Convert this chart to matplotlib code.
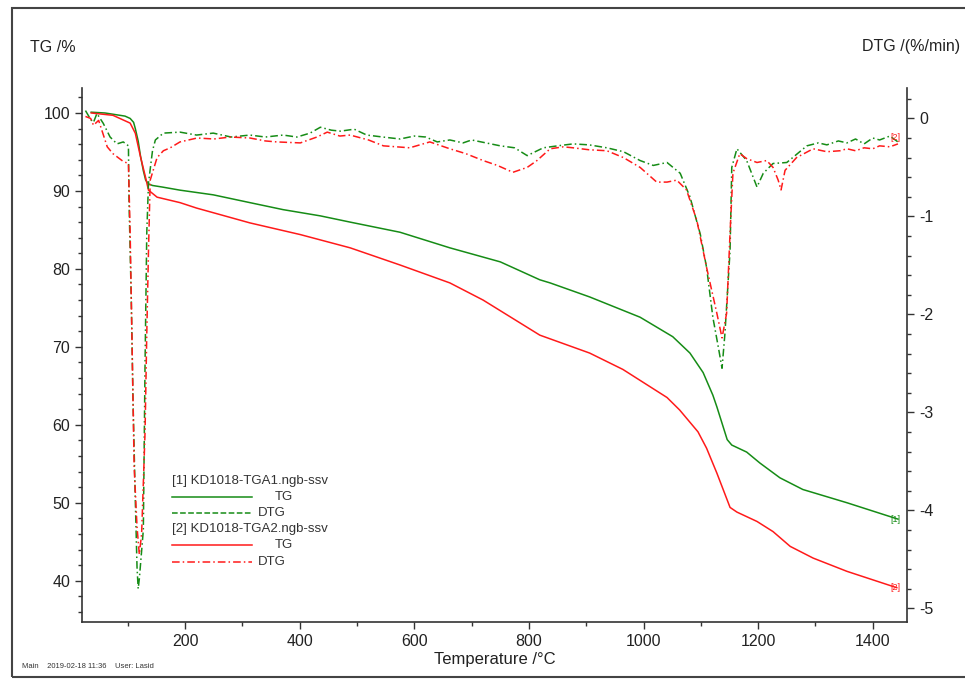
import matplotlib
matplotlib.use('Agg')
import matplotlib.pyplot as plt
from matplotlib.lines import Line2D
from matplotlib.patches import Rectangle
from matplotlib.ticker import MultipleLocator

plt.rcParams['font.family'] = ['Liberation Sans', 'DejaVu Sans']
plt.rcParams['axes.unicode_minus'] = False

# TG curves (temperature in degC, mass in %)
tg1_t = [36, 60, 95, 104, 110, 113, 118, 122, 127, 131, 136, 143, 160, 191, 249, 313, 371,
         436, 488, 575, 662, 750, 819, 837, 906, 994, 1051, 1081, 1104, 1121, 1128, 1146,
         1154, 1180, 1203, 1238, 1278, 1355, 1444]
tg1_v = [100.1, 100.0, 99.6, 99.3, 98.8, 98.0, 96.4, 94.5, 92.6, 91.4, 90.9, 90.7, 90.5, 90.1,
         89.5, 88.5, 87.6, 86.8, 86.0, 84.7, 82.7, 80.9, 78.6, 78.2, 76.4, 73.8, 71.3, 69.2,
         66.7, 63.8, 62.3, 58.1, 57.4, 56.5, 55.1, 53.2, 51.7, 50.0, 47.9]
tg2_t = [36, 74, 104, 113, 122, 131, 136, 151, 191, 220, 313, 401, 488, 575, 662, 720, 819,
         906, 964, 1041, 1063, 1095, 1110, 1128, 1151, 1163, 1198, 1226, 1256, 1296, 1355, 1442]
tg2_v = [100.0, 99.7, 98.7, 97.4, 94.4, 91.7, 90.1, 89.2, 88.5, 87.8, 85.9, 84.4, 82.7, 80.5,
         78.2, 76.0, 71.5, 69.2, 67.1, 63.5, 61.9, 59.1, 57.0, 53.8, 49.4, 48.8, 47.6, 46.3,
         44.4, 42.9, 41.2, 39.1]

# DTG curves (%/min)
dtg1_t = [26, 35, 40, 46, 57, 69, 81, 92, 101, 102, 106, 109, 113, 116, 118, 120, 127, 130,
          133, 136, 143, 148, 162, 191, 220, 249, 280, 313, 340, 371, 395, 418, 436, 455, 471,
          495, 517, 545, 575, 600, 620, 640, 662, 685, 700, 725, 750, 775, 797, 825, 850, 877,
          905, 936, 965, 994, 1017, 1041, 1064, 1081, 1099, 1110, 1121, 1131, 1137, 1142, 1151,
          1154, 1163, 1180, 1198, 1209, 1226, 1250, 1285, 1305, 1320, 1340, 1355, 1370, 1385,
          1400, 1412, 1430, 1444]
dtg1_v = [0.08, -0.01, -0.04, 0.05, -0.05, -0.19, -0.26, -0.24, -0.28, -0.84, -1.86, -2.88,
          -3.9, -4.58, -4.80, -4.70, -4.2, -2.5, -1.17, -0.66, -0.33, -0.22, -0.15, -0.14,
          -0.17, -0.15, -0.19, -0.17, -0.19, -0.17, -0.19, -0.15, -0.09, -0.12, -0.13, -0.11,
          -0.17, -0.19, -0.21, -0.18, -0.19, -0.24, -0.22, -0.25, -0.22, -0.25, -0.28, -0.30,
          -0.38, -0.30, -0.28, -0.26, -0.27, -0.30, -0.34, -0.43, -0.48, -0.45, -0.56, -0.80,
          -1.18, -1.52, -2.03, -2.35, -2.55, -2.2, -1.35, -0.5, -0.31, -0.43, -0.70, -0.56,
          -0.46, -0.45, -0.28, -0.25, -0.27, -0.23, -0.25, -0.21, -0.26, -0.20, -0.22, -0.18,
          -0.24]
dtg2_t = [26, 35, 40, 49, 64, 74, 92, 101, 104, 108, 111, 116, 120, 124, 130, 133, 136, 139,
          151, 162, 174, 191, 221, 250, 279, 313, 340, 360, 401, 430, 448, 470, 488, 520, 546,
          592, 627, 662, 690, 720, 745, 772, 797, 814, 837, 860, 877, 905, 936, 965, 994, 1023,
          1041, 1058, 1075, 1093, 1110, 1128, 1137, 1145, 1151, 1156, 1168, 1180, 1198, 1215,
          1226, 1235, 1240, 1247, 1267, 1296, 1320, 1343, 1355, 1370, 1385, 1400, 1412, 1430,
          1444]
dtg2_v = [0.02, 0.0, -0.07, -0.02, -0.29, -0.36, -0.44, -0.46, -1.17, -2.54, -3.56, -4.17,
          -4.45, -4.24, -3.2, -2.2, -1.35, -0.63, -0.40, -0.33, -0.30, -0.24, -0.20, -0.21,
          -0.19, -0.20, -0.23, -0.24, -0.25, -0.19, -0.14, -0.18, -0.17, -0.22, -0.28, -0.30,
          -0.24, -0.31, -0.36, -0.43, -0.48, -0.55, -0.50, -0.43, -0.31, -0.29, -0.30, -0.32,
          -0.33, -0.40, -0.50, -0.65, -0.65, -0.63, -0.73, -1.04, -1.52, -1.99, -2.24, -1.99,
          -1.17, -0.56, -0.36, -0.41, -0.45, -0.43, -0.50, -0.63, -0.73, -0.53, -0.40, -0.31,
          -0.34, -0.33, -0.31, -0.33, -0.30, -0.31, -0.28, -0.29, -0.26]

green = '#168c16'
red = '#ff1a1a'
axis_col = '#333333'

fig = plt.figure(figsize=(9.65, 6.83), dpi=100)
ax = fig.add_axes([0.085, 0.0893, 0.855, 0.7818])
ax2 = ax.twinx()

ax.plot(tg1_t, tg1_v, color=green, lw=1.1)
ax.plot(tg2_t, tg2_v, color=red, lw=1.1)
ax2.plot(dtg1_t, dtg1_v, color=green, lw=1.1, dashes=(5, 2, 1, 2))
ax2.plot(dtg2_t, dtg2_v, color=red, lw=1.1, dashes=(5, 2, 1, 2))

ax.set_xlim(20, 1460)
ax.set_ylim(34.7, 103.2)
ax2.set_ylim(-5.14, 0.31)

ax.xaxis.set_major_locator(MultipleLocator(200))
ax.xaxis.set_minor_locator(MultipleLocator(100))
ax.yaxis.set_major_locator(MultipleLocator(10))
ax.yaxis.set_minor_locator(MultipleLocator(2))
ax2.yaxis.set_major_locator(MultipleLocator(1))
ax2.yaxis.set_minor_locator(MultipleLocator(0.2))

for a in (ax, ax2):
    a.spines['top'].set_visible(False)
    for s in a.spines.values():
        s.set_color(axis_col)
        s.set_linewidth(1.2)
    a.tick_params(which='major', length=5, width=1, color=axis_col, labelsize=11.5,
                  labelcolor='#222222')
    a.tick_params(which='minor', length=3, width=1, color=axis_col)
ax2.spines['left'].set_visible(False)
ax.spines['right'].set_visible(False)
ax2.spines['bottom'].set_visible(False)

ax.set_xlabel('Temperature /°C', fontsize=12, color='#222222', labelpad=2)

# end-of-curve markers
ax.text(1440, tg1_v[-1], '[1]', color=green, fontsize=6.5, ha='center', va='center')
ax.text(1440, tg2_v[-1], '[2]', color=red, fontsize=6.5, ha='center', va='center')
ax2.text(1440, -0.19, '[2]', color=red, fontsize=6.5, ha='center', va='center')

fig.text(30 / 965, 1 - 47 / 683, 'TG /%', fontsize=11.5, color='#222222', va='center')
fig.text(960 / 965, 1 - 47 / 683, 'DTG /(%/min)', fontsize=11.5, color='#222222',
         va='center', ha='right')
fig.text(22 / 965, 1 - 667 / 683, 'Main    2019-02-18 11:36    User: Lasid', fontsize=5.5,
         color='#333333', va='center')

# legend drawn by hand
W, H = 965, 683
def fx(p): return p / W
def fy(p): return 1 - p / H
leg_rows = [
    (481, '[1] KD1018-TGA1.ngb-ssv', None, None, None),
    (497, 'TG', green, '-', 275),
    (513, 'DTG', green, '--', 258),
    (529, '[2] KD1018-TGA2.ngb-ssv', None, None, None),
    (545, 'TG', red, '-', 275),
    (562, 'DTG', red, (0, (5, 2, 1, 2)), 258),
]
for yy, label, col, ls, tx in leg_rows:
    if col is None:
        fig.text(fx(172), fy(yy), label, fontsize=9.5, color='#333333', va='center')
    else:
        fig.add_artist(Line2D([fx(172), fx(252)], [fy(yy), fy(yy)], color=col, lw=1.1,
                              linestyle=ls))
        fig.text(fx(tx), fy(yy), label, fontsize=9.5, color='#333333', va='center')

fig.add_artist(Rectangle((fx(12), fy(677)), fx(980), 669 / H, fill=False,
                         edgecolor='#444444', lw=1.5))

fig.savefig('out.png', dpi=100)
